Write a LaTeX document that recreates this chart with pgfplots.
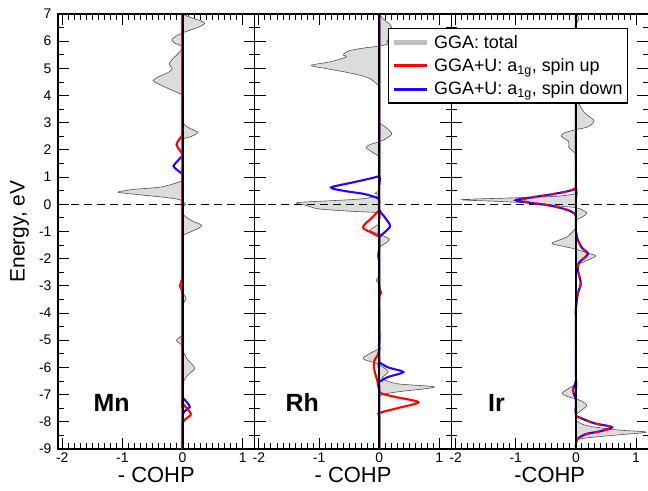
\documentclass[border=0pt]{standalone}
\usepackage{fontspec}
\setmainfont{Liberation Sans}
\usepackage{pgfplots}
\pgfplotsset{compat=1.18}
\definecolor{myblue}{RGB}{40,0,255}
\definecolor{fillgray}{RGB}{220,220,220}
\definecolor{edgegray}{RGB}{80,80,80}
\definecolor{leggray}{RGB}{192,192,192}
\tikzset{lab/.style={font=\fontsize{25}{28}\selectfont\bfseries}}
\pgfplotsset{
  panel/.style={
    scale only axis, width=196.7bp, height=435bp,
    xmin=-2.07, xmax=1.2, ymin=-9, ymax=7,
    xtick={-2,-1,0,1}, minor x tick num=9,
    ytick={-9,-8,...,7}, minor y tick num=1,
    tick align=inside,
    major tick length=11bp, minor tick length=5.5bp,
    every tick/.style={black, line width=0.9bp},
    axis line style={line width=1.2bp},
    tick label style={font=\fontsize{14}{16}\selectfont},
    /pgf/number format/assume math mode=true,
    every axis x label/.style={at={(axis description cs:0.5,-0.06)}, anchor=center, font=\fontsize{22}{25}\selectfont},
    every axis y label/.style={at={(axis description cs:-0.195,0.5)}, anchor=center, rotate=90, font=\fontsize{21}{24}\selectfont},
    yticklabel style={xshift=-3bp},
    clip=true,
  },
  tot/.style={forget plot, smooth, tension=0.5, draw=edgegray, line width=0.6bp, fill=fillgray},
  up/.style={forget plot, smooth, tension=0.5, red, line width=2.1bp},
  dn/.style={forget plot, smooth, tension=0.5, myblue, line width=2.1bp},
  zeroline/.style={forget plot, black, line width=1.2bp, dash pattern=on 8bp off 5bp},
  vline/.style={forget plot, black, line width=2bp},
}
\begin{document}
\begin{tikzpicture}
\path[use as bounding box] (0,0) rectangle (648bp,491bp);
% ---------------- Mn ----------------
\begin{axis}[panel, name=a1, at={(58bp,42bp)}, anchor=south west,
  xlabel={- COHP}, ylabel={Energy, eV}]
\addplot[tot] coordinates {
(0,7) (0.1,6.9) (0.3,6.75) (0.37,6.65) (0.25,6.5) (0.05,6.35) (0,6.3)
(-0.1,6.2) (-0.18,6.05) (-0.12,5.92) (0,5.8) (-0.05,5.6) (-0.13,5.42)
(-0.22,5.17) (-0.17,4.99) (-0.23,4.86) (-0.35,4.74) (-0.49,4.56) (-0.41,4.44)
(-0.18,4.2) (0,4.02) (0,3.85) (0,3.05) (0.1,2.82) (0.25,2.65) (0.15,2.5) (0,2.4)
(0,2.25) (0,1.0) (-0.03,0.85) (-0.35,0.64) (-0.8,0.55) (-1.07,0.45) (-0.8,0.37)
(-0.35,0.27) (-0.06,0.18) (0,0.1) (0.05,0.0) (0,-0.1) (0,-0.35) (0.15,-0.6)
(0.32,-0.78) (0.2,-0.95) (0,-1.15) (0,-1.3) (0,-3.1) (0.06,-3.45) (0,-3.7) (0,-3.85)
(0,-4.75) (-0.1,-5.0) (0,-5.2) (0,-5.35) (0.08,-5.7) (0.2,-6.03) (0.08,-6.3) (0,-6.6)
(0,-6.75) (0,-9)};
\addplot[zeroline] coordinates {(-2.07,0) (1.2,0)};
\addplot[dn] coordinates {
(0,7) (0,1.95) (0,1.8) (-0.1,1.55) (-0.15,1.4) (-0.08,1.25) (0,1.1) (0,0.95)
(0,-7.0) (0,-7.1) (0.08,-7.3) (0.12,-7.46) (0.04,-7.6) (0,-7.75) (0,-7.9) (0,-9)};
\addplot[up] coordinates {
(0,7) (0,2.7) (0,2.55) (-0.05,2.4) (-0.1,2.2) (-0.05,2.0) (0,1.85) (0,1.7)
(0,-2.55) (0,-2.7) (-0.04,-3.0) (0,-3.2) (0,-3.35) (0,-7.15) (0,-7.3) (0.05,-7.45)
(0.14,-7.72) (0.05,-7.9) (0,-8.05) (0,-8.2) (0,-9)};
\addplot[vline] coordinates {(0,-9) (0,7)};
\node[lab] at (axis cs:-1.18,-7.3) {Mn};
\end{axis}
% ---------------- Rh ----------------
\begin{axis}[panel, name=a2, at={(a1.south east)}, anchor=south west,
  xlabel={- COHP}, yticklabels={}]
\addplot[tot] coordinates {
(0,7) (0.05,6.85) (0.2,6.55) (0.18,6.2) (0.13,6.0) (0.15,5.9) (0,5.82)
(-0.25,5.75) (-0.5,5.65) (-0.6,5.5) (-0.55,5.42) (-0.8,5.25) (-1.13,5.11)
(-0.9,5.0) (-0.53,4.85) (-0.2,4.67) (-0.05,4.45) (0,4.3) (0,4.15) (0,3.15) (0,3.0)
(0.1,2.85) (0.21,2.6) (0.1,2.4) (0,2.3) (-0.15,2.2) (-0.22,2.08) (-0.1,1.9) (0,1.75)
(0,1.6) (0,0.6) (0,0.5) (-0.07,0.4) (0,0.32) (-0.3,0.2) (-0.82,0.13) (-1.37,0.06)
(-1.2,-0.05) (-1.0,-0.17) (-0.5,-0.25) (-0.05,-0.3) (0,-0.35) (0,-0.7) (-0.15,-0.95)
(0,-1.1) (0.17,-1.3) (0,-1.6) (-0.03,-1.95) (0,-2.1) (0,-2.6) (-0.05,-2.8) (0,-2.95)
(0,-3.1) (0,-5.15) (0,-5.3) (-0.27,-5.66) (-0.05,-5.85) (0.15,-6.15) (0.05,-6.4)
(0.3,-6.6) (0.92,-6.72) (0.3,-6.9) (0.05,-7.0) (0,-7.1) (0,-7.25) (0,-9)};
\addplot[zeroline] coordinates {(-2.07,0) (1.2,0)};
\addplot[up] coordinates {
(0,7) (0,-0.05) (0,-0.2) (-0.1,-0.45) (-0.27,-0.84) (-0.12,-1.05) (0,-1.2) (0,-1.35)
(0,-2.9) (0.03,-3.27) (0,-3.5) (0,-5.3) (-0.08,-5.75) (-0.08,-6.1) (-0.03,-6.5)
(0,-6.85) (0.05,-6.97) (0.3,-7.1) (0.65,-7.28) (0.3,-7.5) (0,-7.68) (0,-7.83) (0,-9)};
\addplot[dn] coordinates {
(0,7) (0,1.2) (0,1.05) (-0.15,0.95) (-0.45,0.8) (-0.8,0.62) (-0.6,0.5) (-0.25,0.38)
(-0.05,0.25) (0,0.15) (0,-0.2) (0.1,-0.5) (0.18,-0.8) (0.08,-1.05) (0,-1.2) (0,-1.35)
(0,-5.65) (0,-5.8) (0.15,-6.0) (0.4,-6.17) (0.15,-6.35) (0,-6.54) (0,-6.7) (0,-9)};
\addplot[vline] coordinates {(0,-9) (0,7)};
\node[lab] at (axis cs:-1.28,-7.3) {Rh};
\end{axis}
% ---------------- Ir ----------------
\begin{axis}[panel, name=a3, at={(a2.south east)}, anchor=south west,
  xlabel={-COHP}, yticklabels={},
  legend style={at={(rel axis cs:-0.322,0.968)}, anchor=north west, draw=black,
    line width=1.2bp, fill=white, font=\fontsize{18}{21}\selectfont,
    nodes={font=\fontsize{18}{21}\selectfont, inner ysep=4.5bp},
    /tikz/every odd column/.append style={column sep=3bp}},
  legend cell align=left,
  legend image code/.code={\draw[#1] (0bp,0bp) -- (33bp,0bp);}]
\addlegendimage{line width=4.5bp, leggray}
\addlegendentry{GGA: total}
\addlegendimage{line width=3bp, red}
\addlegendentry{GGA+U: a\textsubscript{1g}, spin up}
\addlegendimage{line width=3bp, myblue}
\addlegendentry{GGA+U: a\textsubscript{1g}, spin down}
\addplot[tot] coordinates {
(0,7) (0.05,6.85) (0,6.6) (0,6.45) (0,4.25) (0,4.1) (0.05,3.7) (0.15,3.35) (0.3,3.08)
(0.2,2.85) (0,2.75) (-0.2,2.62) (-0.24,2.5) (-0.12,2.3) (-0.12,2.1) (-0.05,1.95)
(0,1.85) (0,1.7) (0,0.55) (0,0.4) (-0.3,0.3) (-1.0,0.24) (-1.9,0.17) (-1.2,0.1)
(-0.6,0.02) (-0.2,-0.08) (0,-0.12) (0.1,-0.2) (0.18,-0.33) (0.08,-0.5) (0,-0.6)
(0,-0.85) (-0.15,-1.2) (-0.4,-1.43) (-0.2,-1.55) (0,-1.65) (0.2,-1.8) (0.33,-1.9)
(0.15,-2.1) (0,-2.25) (0,-2.4) (0,-6.45) (0,-6.6) (-0.1,-6.75) (-0.23,-6.95)
(-0.1,-7.1) (0,-7.15) (0.1,-7.25) (0.18,-7.4) (0.08,-7.6) (0,-7.75) (0,-7.95)
(0.2,-8.15) (0.7,-8.3) (1.17,-8.38) (0.6,-8.5) (0.15,-8.6) (0,-8.7) (0,-9)};
\addplot[zeroline] coordinates {(-2.07,0) (1.2,0)};
\addplot[dn] coordinates {
(0,7) (0,0.75) (0,0.6) (-0.1,0.5) (-0.37,0.38) (-0.75,0.25) (-1.0,0.15) (-0.75,0.05)
(-0.42,-0.05) (-0.15,-0.2) (-0.02,-0.35) (0,-0.5) (0,-1.0) (0.03,-1.3) (0.1,-1.6)
(0.2,-1.8) (0.15,-1.95) (0.05,-2.15) (0.03,-2.4) (0.08,-2.9) (0.03,-3.3) (0,-3.8)
(0,-3.95) (0,-6.35) (0,-6.5) (-0.05,-6.85) (-0.03,-7.0) (0,-7.2) (0,-7.75)
(0.07,-7.85) (0.3,-8.05) (0.6,-8.2) (0.4,-8.35) (0.17,-8.45) (0.02,-8.65) (0,-9)};
\addplot[up, dash pattern=on 5bp off 5bp] coordinates {
(0,7) (0,0.75) (0,0.6) (-0.1,0.5) (-0.37,0.38) (-0.72,0.25) (-0.92,0.15) (-0.72,0.05)
(-0.42,-0.05) (-0.15,-0.2) (-0.02,-0.35) (0,-0.5) (0,-1.0) (0.03,-1.3) (0.1,-1.6)
(0.2,-1.8) (0.15,-1.95) (0.05,-2.15) (0.03,-2.4) (0.08,-2.9) (0.03,-3.3) (0,-3.8)
(0,-3.95) (0,-6.35) (0,-6.5) (-0.05,-6.85) (-0.03,-7.0) (0,-7.2) (0,-7.75)
(0.07,-7.85) (0.3,-8.05) (0.6,-8.2) (0.4,-8.35) (0.17,-8.45) (0.02,-8.65) (0,-9)};
\addplot[vline] coordinates {(0,-9) (0,7)};
\node[lab] at (axis cs:-1.32,-7.3) {Ir};
\end{axis}
\end{tikzpicture}
\end{document}
